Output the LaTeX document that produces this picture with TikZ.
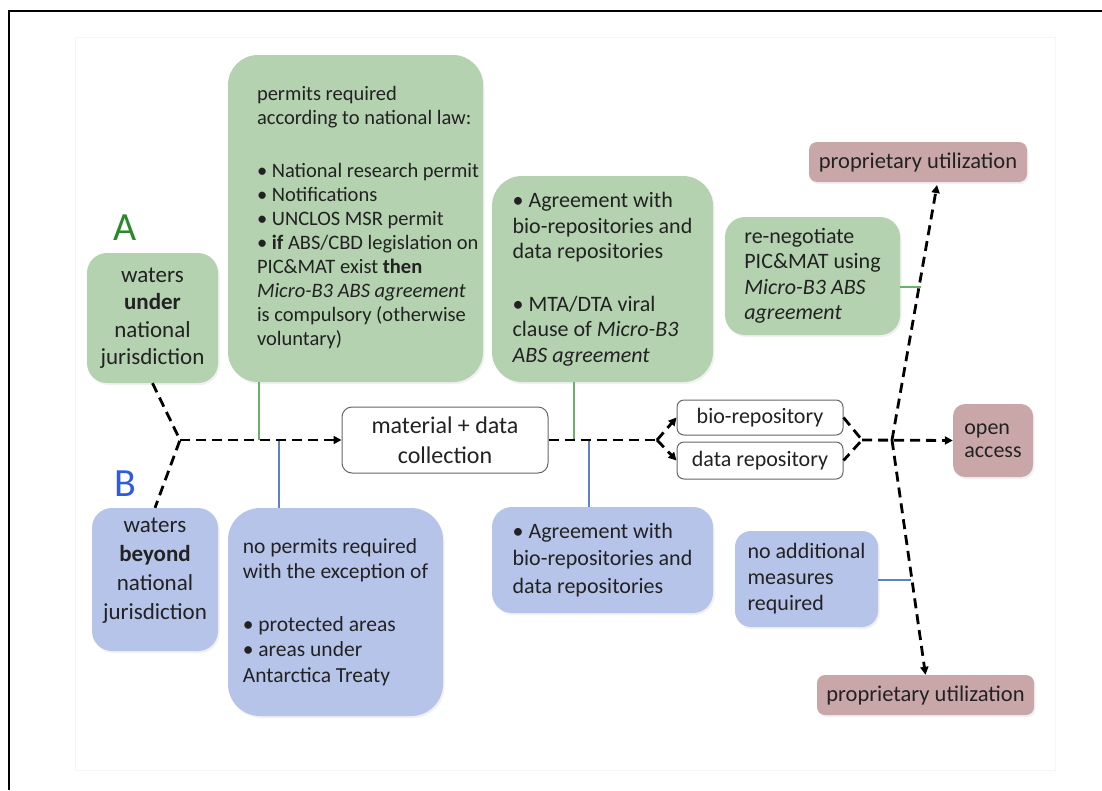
\documentclass[tikz,border=0pt]{standalone}
\usepackage{fontspec}
\setmainfont{Carlito}
\usetikzlibrary{arrows.meta,shadows}
\definecolor{gfill}{HTML}{B4D1B0}
\definecolor{bfill}{HTML}{B6C4EA}
\definecolor{pfill}{HTML}{C9A7A9}
\definecolor{txt}{HTML}{222222}
\definecolor{gletter}{HTML}{2A8A2A}
\definecolor{bletter}{HTML}{2F5BE0}
\definecolor{gthin}{HTML}{6AAF6A}
\definecolor{bthin}{HTML}{5F7FD0}
\definecolor{wborder}{HTML}{666666}
\begin{document}
\begin{tikzpicture}[x=1pt,y=-1pt,
  every node/.style={text=txt, font=\fontsize{22}{25.5}\selectfont, inner sep=0pt},
  shad/.style={drop shadow={opacity=0.12, shadow xshift=1.5pt, shadow yshift=-2pt}},
  gbox/.style={fill=gfill, draw=none, align=left, shad},
  bbox/.style={fill=bfill, draw=none, align=left, shad},
  pbox/.style={fill=pfill, draw=none, align=left, rounded corners=8pt, shad},
  wbox/.style={fill=white, draw=wborder, line width=1pt, align=center, rounded corners=10pt},
  dline/.style={draw=black, line width=2.8pt, dash pattern=on 10pt off 6pt},
  arr/.style={-{Triangle[length=8pt,width=8pt]}},
  gline/.style={draw=gthin, line width=1.2pt},
  bline/.style={draw=bthin, line width=1.2pt},
  letter/.style={font=\fontsize{40}{40}\selectfont}
]
\useasboundingbox (0,0) rectangle (1102,790);
% frame
\draw[black!4, line width=0.8pt] (75,37) rectangle (1055,770);
\draw[line width=1.6pt] (9,790) -- (9,11) -- (1102,11);

% letters
\node[letter, text=gletter] (A) at (125,228) {A};
\node[letter, text=bletter] (B) at (125,484) {B};

% green boxes
\node[gbox, rounded corners=30pt, minimum width=255pt, minimum height=327pt,
  font=\fontsize{20.5}{24}\selectfont] (permits) at (355.5,218.5)
 {\hspace*{25pt}\begin{tabular}{@{}l@{}}permits required\\according to national law:\\[29pt]%
 • National research permit\\• Notifications\\• UNCLOS MSR permit\\%
 • \textbf{if} ABS/CBD legislation on\\PIC\&MAT exist \textbf{then}\\%
 \textit{Micro-B3 ABS agreement}\\is compulsory (otherwise\\voluntary)\end{tabular}};
\node[gbox, align=center, rounded corners=20pt, minimum width=131pt, minimum height=130pt,
  font=\fontsize{23}{27.5}\selectfont] (under) at (152.5,318)
 {waters\\\textbf{under}\\national\\jurisdiction};
\node[gbox, rounded corners=30pt, minimum width=221pt, minimum height=206pt,
  font=\fontsize{22}{25.5}\selectfont] (agrG) at (602.5,279)
 {• Agreement with\\bio-repositories and\\data repositories\\[27pt]%
 • MTA/DTA viral\\clause of \textit{Micro-B3}\\\textit{ABS agreement}};
\node[gbox, rounded corners=20pt, minimum width=175pt, minimum height=118pt,
  font=\fontsize{22}{25.5}\selectfont] (renego) at (812.5,276)
 {re-negotiate\\PIC\&MAT using\\\textit{Micro-B3 ABS}\\\textit{agreement}};

% blue boxes
\node[bbox, align=center, rounded corners=20pt, minimum width=126pt, minimum height=143pt,
  font=\fontsize{23}{29}\selectfont] (beyond) at (155,579.5)
 {waters\\\textbf{beyond}\\national\\jurisdiction\\[-16pt]\strut};
\node[bbox, rounded corners=32pt, minimum width=215pt, minimum height=208pt,
  font=\fontsize{21.5}{25.5}\selectfont] (noperm) at (335.5,612)
 {no permits required\\with the exception of\\[27pt]%
 • protected areas\\• areas under\\Antarctica Treaty};
\node[bbox, rounded corners=20pt, minimum width=221pt, minimum height=106pt,
  font=\fontsize{22}{27.5}\selectfont] (agrB) at (602.5,560)
 {• Agreement with\\bio-repositories and\\data repositories};
\node[bbox, rounded corners=16pt, minimum width=143pt, minimum height=96pt,
  font=\fontsize{22}{26}\selectfont] (noadd) at (806.5,579)
 {no additional\\measures\\required};

% pink boxes
\node[pbox, minimum width=218pt, minimum height=40pt, font=\fontsize{22.5}{26}\selectfont] (propT) at (918,162) {proprietary utilization};
\node[pbox, minimum width=217pt, minimum height=40pt, font=\fontsize{22.5}{26}\selectfont] (propB) at (925.5,695) {proprietary utilization};
\node[pbox, rounded corners=12pt, minimum width=80pt, minimum height=73pt,
  font=\fontsize{22}{22.5}\selectfont] (open) at (993,440.5) {open\\access};

% white boxes
\node[wbox, minimum width=206pt, minimum height=66pt, font=\fontsize{24}{30}\selectfont] (mat) at (445,440)
 {material + data\\collection};
\node[wbox, rounded corners=7pt, minimum width=166pt, minimum height=35pt] (bio) at (760,417.5) {bio-repository};
\node[wbox, rounded corners=7pt, minimum width=166pt, minimum height=37pt] (data) at (760,460.5) {data repository};

% junctions
\coordinate (J1) at (180,440);
\coordinate (F1) at (657,440);
\coordinate (J2) at (862,440);
\coordinate (J3) at (892,440);
\coordinate (T1) at (937,185);
\coordinate (g1) at (259,440);
\coordinate (b1) at (279,440);
\coordinate (g2) at (574,440);
\coordinate (b2) at (589,440);
\coordinate (g3) at (921,287);
\coordinate (b3) at (911,580);

% thin attachment lines
\draw[gline] (g1 |- permits.south) -- (g1);
\draw[bline] (b1) -- (b1 |- noperm.north);
\draw[gline] (g2 |- agrG.south) -- (g2);
\draw[bline] (b2) -- (b2 |- agrB.north);
\draw[gline] (g3 -| renego.east) -- (g3);
\draw[bline] (b3 -| noadd.east) -- (b3);

% dashed flow
\draw[dline] (under.south) -- (J1) -- (beyond.north);
\draw[dline,arr] (J1) -- (mat.west);
\draw[dline] (mat.east) -- (F1);
\draw[dline,arr] (F1) -- (bio.west);
\draw[dline,arr] (F1) -- (data.west);
\draw[dline] (bio.east) -- (J2) -- (data.east);
\draw[dline,arr] (J2) -- (open.west);
\draw[dline,arr] (J3) -- (T1);
\draw[dline,arr] (J3) -- (propB.north);
\end{tikzpicture}
\end{document}
